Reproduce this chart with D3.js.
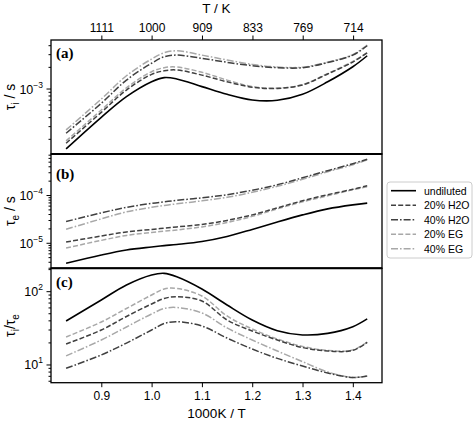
<!DOCTYPE html>
<html><head><meta charset="utf-8">
<script src="https://cdn.jsdelivr.net/npm/d3@7/dist/d3.min.js"></script>
<style>body{margin:0;background:#fff}svg{display:block}</style>
</head><body>
<svg id="chart" width="475" height="422"></svg>
<script>
// ---------- DATA ----------
const x1000T = [0.83, 0.9, 0.95, 1.0, 1.025, 1.05, 1.1, 1.15, 1.2, 1.25, 1.3, 1.35, 1.4, 1.4286];
const seriesNames = ["undiluted", "20% H2O", "40% H2O", "20% EG", "40% EG"];
const topTickLabels = [1111, 1000, 909, 833, 769, 714];
const bottomTicks = [0.9, 1.0, 1.1, 1.2, 1.3, 1.4];

// tau_i / s
const tauI_undiluted = [1.47e-4, 4.04e-4, 7.82e-4, 1.26e-3, 1.44e-3, 1.38e-3, 1.08e-3, 8.44e-4, 7.04e-4, 6.97e-4, 8.44e-4, 1.26e-3, 2.04e-3, 2.90e-3];
const tauI_h2o20   = [1.76e-4, 4.74e-4, 9.68e-4, 1.60e-3, 1.79e-3, 1.84e-3, 1.56e-3, 1.26e-3, 1.06e-3, 1.02e-3, 1.14e-3, 1.62e-3, 2.37e-3, 3.19e-3];
const tauI_h2o40   = [2.43e-4, 6.33e-4, 1.33e-3, 2.28e-3, 2.81e-3, 2.96e-3, 2.67e-3, 2.35e-3, 2.11e-3, 1.98e-3, 1.98e-3, 2.33e-3, 2.96e-3, 3.99e-3];
const tauI_eg20    = [1.90e-4, 5.11e-4, 1.04e-3, 1.74e-3, 1.98e-3, 2.02e-3, 1.71e-3, 1.33e-3, 1.08e-3, 1.03e-3, 1.15e-3, 1.64e-3, 2.41e-3, 3.21e-3];
const tauI_eg40    = [2.70e-4, 7.26e-4, 1.53e-3, 2.61e-3, 3.19e-3, 3.40e-3, 2.96e-3, 2.53e-3, 2.20e-3, 2.02e-3, 2.01e-3, 2.36e-3, 3.01e-3, 4.08e-3];

// tau_e / s
const tauE_undiluted = [3.80e-6, 5.68e-6, 7.23e-6, 8.35e-6, 8.91e-6, 9.45e-6, 1.09e-5, 1.39e-5, 1.95e-5, 2.80e-5, 3.93e-5, 5.26e-5, 6.38e-5, 6.92e-5];
const tauE_h2o20   = [1.06e-5, 1.42e-5, 1.73e-5, 1.95e-5, 2.08e-5, 2.20e-5, 2.48e-5, 3.01e-5, 3.93e-5, 5.52e-5, 7.74e-5, 1.04e-4, 1.35e-4, 1.60e-4];
const tauE_h2o40   = [2.85e-5, 4.34e-5, 5.65e-5, 6.86e-5, 7.38e-5, 7.93e-5, 8.95e-5, 1.04e-4, 1.29e-4, 1.68e-4, 2.36e-4, 3.31e-4, 4.64e-4, 5.77e-4];
const tauE_eg20    = [7.96e-6, 1.15e-5, 1.46e-5, 1.69e-5, 1.80e-5, 1.90e-5, 2.20e-5, 2.73e-5, 3.66e-5, 5.26e-5, 7.38e-5, 9.86e-5, 1.32e-4, 1.52e-4];
const tauE_eg40    = [1.97e-5, 3.24e-5, 4.55e-5, 5.65e-5, 6.17e-5, 6.70e-5, 7.74e-5, 9.16e-5, 1.17e-4, 1.56e-4, 2.19e-4, 3.15e-4, 4.42e-4, 5.62e-4];

// tau_i / tau_e
const ratio_undiluted = [39.8, 77.1, 123.4, 169, 178, 160, 108.9, 65.9, 41.1, 29.4, 25.7, 27.0, 33.3, 42.5];
const ratio_h2o20   = [19.3, 30.0, 45.9, 68.0, 80.8, 85.4, 74.6, 41.1, 29.1, 21.9, 17.3, 15.5, 15.8, 20.4];
const ratio_h2o40   = [9.02, 13.7, 19.9, 30.0, 36.8, 38.9, 34.0, 23.3, 16.5, 12.3, 9.69, 7.78, 6.75, 7.08];
const ratio_eg20    = [24.1, 38.6, 59.0, 90.1, 108.9, 110.6, 87.3, 46.6, 31.0, 22.6, 17.9, 15.8, 16.0, 20.6];
const ratio_eg40    = [13.3, 21.9, 33.0, 49.6, 59.0, 60.9, 51.2, 32.0, 21.9, 15.5, 11.1, 8.03, 6.75, 7.08];

// ---------- STYLES ----------
const styles = [
  {color:"#000000", dash:null, w:1.6},
  {color:"#404040", dash:"5,2.2", w:1.5},
  {color:"#404040", dash:"7,2,1.6,2", w:1.5},
  {color:"#a8a8a8", dash:"5,2.2", w:1.5},
  {color:"#a8a8a8", dash:"7,2,1.6,2", w:1.5}
];

const svg = d3.select("#chart");
const L = 51, R = 382;
const x = d3.scaleLinear().domain([0.8, 1.458]).range([L, R]);

const panels = [
  {label:"(a)", ly:58, data:[tauI_undiluted,tauI_h2o20,tauI_h2o40,tauI_eg20,tauI_eg40],
   y:d3.scaleLog().domain([1.25e-4, 4.8e-3]).range([154, 40]), top:40, bot:154, ylab:["τ","i"," / s"]},
  {label:"(b)", ly:179, data:[tauE_undiluted,tauE_h2o20,tauE_h2o40,tauE_eg20,tauE_eg40],
   y:d3.scaleLog().domain([2.99e-6, 7.41e-4]).range([268.3, 154]), top:154, bot:268.3, ylab:["τ","e"," / s"]},
  {label:"(c)", ly:287, data:[ratio_undiluted,ratio_h2o20,ratio_h2o40,ratio_eg20,ratio_eg40],
   y:d3.scaleLog().domain([5.73, 208.5]).range([382.7, 268.3]), top:268.3, bot:382.7, ylab:null}
];

const font = "Liberation Sans, Arial, sans-serif";

panels.forEach((p, pi) => {
  const g = svg.append("g");
  // curves (draw in reverse so black on top)
  const line = d3.line().x((d,i)=>x(x1000T[i])).y(d=>p.y(d)).curve(d3.curveCatmullRom.alpha(0.5));
  [4,3,2,1,0].forEach(si => {
    g.append("path").attr("d", line(p.data[si])).attr("fill","none")
      .attr("stroke", styles[si].color).attr("stroke-width", styles[si].w)
      .attr("stroke-dasharray", styles[si].dash);
  });
  // y ticks (log)
  const [d0, d1] = p.y.domain();
  const e0 = Math.floor(Math.log10(d0)), e1 = Math.ceil(Math.log10(d1));
  for (let e = e0; e <= e1; e++) {
    for (let k = 1; k <= 9; k++) {
      const v = k * Math.pow(10, e);
      if (v < d0 || v > d1) continue;
      const yy = p.y(v);
      const major = k === 1;
      g.append("line").attr("x1", L).attr("x2", L - (major ? 4.5 : 2.5))
        .attr("y1", yy).attr("y2", yy).attr("stroke","#000").attr("stroke-width", 1);
      if (major) {
        const t = g.append("text").attr("x", L - 8).attr("y", yy + 4.5)
          .attr("text-anchor","end").attr("font-family", font).attr("font-size", 12.5);
        t.append("tspan").text("10");
        t.append("tspan").attr("dy", -6).attr("font-size", 8.5).text(e < 0 ? "\u2212" + (-e) : String(e));
      }
    }
  }
  // frame
  g.append("rect").attr("x", L).attr("y", p.top).attr("width", R - L).attr("height", p.bot - p.top)
    .attr("fill","none").attr("stroke","#000").attr("stroke-width", 1.3);
  // panel label
  g.append("text").attr("x", 56).attr("y", p.ly).attr("font-family","Liberation Serif, Times New Roman, serif")
    .attr("font-weight","bold").attr("font-size", 15).text(p.label);
  // y label
  const cy = (p.top + p.bot) / 2;
  const yl = g.append("text").attr("transform", `translate(15,${cy}) rotate(-90)`)
    .attr("text-anchor","middle").attr("font-family", font).attr("font-size", 14);
  if (p.ylab) {
    yl.append("tspan").text(p.ylab[0]);
    yl.append("tspan").attr("font-size", 10).attr("dy", 4).text(p.ylab[1]);
    yl.append("tspan").attr("dy", -4).text(p.ylab[2]);
  } else {
    yl.append("tspan").text("τ");
    yl.append("tspan").attr("font-size", 10).attr("dy", 4).text("i");
    yl.append("tspan").attr("dy", -4).text("/τ");
    yl.append("tspan").attr("font-size", 10).attr("dy", 4).text("e");
  }
});

// separators thicker
[154, 268.3].forEach(yy => svg.append("line").attr("x1", L).attr("x2", R).attr("y1", yy).attr("y2", yy)
  .attr("stroke","#000").attr("stroke-width", 2));

// bottom axis
const bAx = svg.append("g").attr("transform", "translate(0,382.7)")
  .call(d3.axisBottom(x).tickValues(bottomTicks).tickFormat(d3.format(".1f")).tickSize(4.5).tickPadding(4));
bAx.select(".domain").remove();
bAx.selectAll("text").attr("font-family", font).attr("font-size", 12).attr("fill","#000");
svg.append("text").attr("x", (L+R)/2).attr("y", 418).attr("text-anchor","middle")
  .attr("font-family", font).attr("font-size", 13.5).text("1000K / T");

// top axis (temperature)
const tAx = svg.append("g").attr("transform", "translate(0,40)")
  .call(d3.axisTop(x).tickValues(topTickLabels.map(t => 1000 / t)).tickFormat((d,i)=>String(topTickLabels[i])).tickSize(4.5).tickPadding(4));
tAx.select(".domain").remove();
tAx.selectAll("text").attr("font-family", font).attr("font-size", 12).attr("fill","#000");
svg.append("text").attr("x", (L+R)/2).attr("y", 13).attr("text-anchor","middle")
  .attr("font-family", font).attr("font-size", 13.5).text("T / K");

// legend
const lg = svg.append("g");
lg.append("rect").attr("x", 387).attr("y", 182).attr("width", 85).attr("height", 76).attr("rx", 3)
  .attr("fill","#fff").attr("stroke","#cccccc").attr("stroke-width", 1);
seriesNames.forEach((n, i) => {
  const yy = 190.7 + i * 14.5;
  lg.append("line").attr("x1", 391).attr("x2", 416).attr("y1", yy).attr("y2", yy)
    .attr("stroke", styles[i].color).attr("stroke-width", styles[i].w).attr("stroke-dasharray", styles[i].dash);
  lg.append("text").attr("x", 424).attr("y", yy + 4).attr("font-family", font).attr("font-size", 10.5).text(n);
});
</script>
</body></html>
